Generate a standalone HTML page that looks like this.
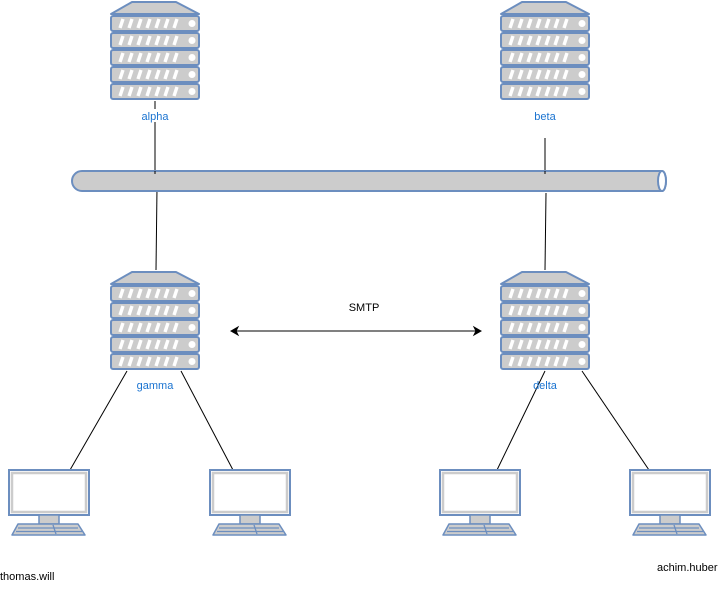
<!DOCTYPE html>
<html><head><meta charset="utf-8"><style>
html,body{margin:0;padding:0;background:#fff;}
svg{display:block;}
text{font-family:"Liberation Sans",Arial,sans-serif;font-size:11px;}
</style></head><body>
<svg width="723" height="591" viewBox="0 0 723 591" xmlns="http://www.w3.org/2000/svg">
<defs>
<g id="unit">
<rect x="1" y="0" width="88" height="15" rx="2" fill="#cccccc" stroke="#6c8ebf" stroke-width="2"/>
<g stroke="#fff" stroke-width="3.4">
<line x1="10" y1="12" x2="13" y2="3"/><line x1="19" y1="12" x2="22" y2="3"/><line x1="28" y1="12" x2="31" y2="3"/>
<line x1="37" y1="12" x2="40" y2="3"/><line x1="46" y1="12" x2="49" y2="3"/><line x1="55" y1="12" x2="58" y2="3"/>
<line x1="64" y1="12" x2="67" y2="3"/>
</g>
<circle cx="82" cy="7.5" r="3.5" fill="#fff"/>
</g>
<g id="server">
<polygon points="22,1 66,1 89,13 1,13" fill="#cccccc" stroke="#6c8ebf" stroke-width="2" stroke-linejoin="round"/>
<use href="#unit" y="15"/><use href="#unit" y="32"/><use href="#unit" y="49"/><use href="#unit" y="66"/><use href="#unit" y="83"/>
</g>
<g id="pc">
<rect x="1" y="1" width="80" height="45" fill="#fff" stroke="#6c8ebf" stroke-width="2"/>
<rect x="4" y="4" width="74" height="39" fill="none" stroke="#cccccc" stroke-width="2.5"/>
<rect x="31" y="46" width="20" height="9" fill="#cccccc" stroke="#6c8ebf" stroke-width="1.5"/>
<polygon points="10,55 70,55 77,66 4,66" fill="#cccccc" stroke="#6c8ebf" stroke-width="1.5" stroke-linejoin="round"/>
<g stroke="#6c8ebf" stroke-width="1.3"><line x1="10" y1="59" x2="70" y2="59"/><line x1="8" y1="62.5" x2="74" y2="62.5"/><line x1="45" y1="56" x2="48" y2="65"/></g>
</g>
</defs>

<g stroke="#000" stroke-width="1" fill="none">
<line x1="155" y1="101" x2="155" y2="174"/>
<line x1="157" y1="188" x2="156" y2="270"/>
<line x1="545" y1="138" x2="545" y2="174"/>
<line x1="546" y1="193" x2="545" y2="270"/>
<line x1="127" y1="371" x2="70" y2="470"/>
<line x1="181" y1="371" x2="233" y2="470"/>
<line x1="545" y1="371" x2="497" y2="470"/>
<line x1="582" y1="371" x2="649" y2="470"/>
<line x1="236" y1="331" x2="476" y2="331"/>
</g>
<polygon points="231,331 238,327 236,331 238,335" fill="#000" stroke="#000"/>
<polygon points="481,331 474,327 476,331 474,335" fill="#000" stroke="#000"/>

<path d="M82,171 L662,171 A4,10 0 0 1 662,191 L82,191 A10,10 0 0 1 82,171 Z" fill="#cccccc" stroke="#6c8ebf" stroke-width="2"/>
<ellipse cx="662" cy="181" rx="4" ry="10" fill="#fff" stroke="#6c8ebf" stroke-width="2"/>
<line x1="155" y1="171" x2="155" y2="174" stroke="#000"/>
<line x1="545" y1="171" x2="545" y2="174" stroke="#000"/>

<use href="#server" x="110" y="1"/>
<use href="#server" x="500" y="1"/>
<use href="#server" x="110" y="271"/>
<use href="#server" x="500" y="271"/>

<rect x="137" y="109" width="36" height="13" fill="#fff"/>
<text x="155" y="120" text-anchor="middle" fill="#1a73d0">alpha</text>
<text x="545" y="120" text-anchor="middle" fill="#1a73d0">beta</text>
<text x="155" y="389" text-anchor="middle" fill="#1a73d0">gamma</text>
<text x="545" y="389" text-anchor="middle" fill="#1a73d0">delta</text>
<text x="364" y="311" text-anchor="middle" fill="#000">SMTP</text>

<use href="#pc" x="8" y="469"/>
<use href="#pc" x="209" y="469"/>
<use href="#pc" x="439" y="469"/>
<use href="#pc" x="629" y="469"/>

<text x="0" y="580" fill="#000">thomas.will</text>
<text x="657" y="571" fill="#000">achim.huber</text>
</svg>
</body></html>
